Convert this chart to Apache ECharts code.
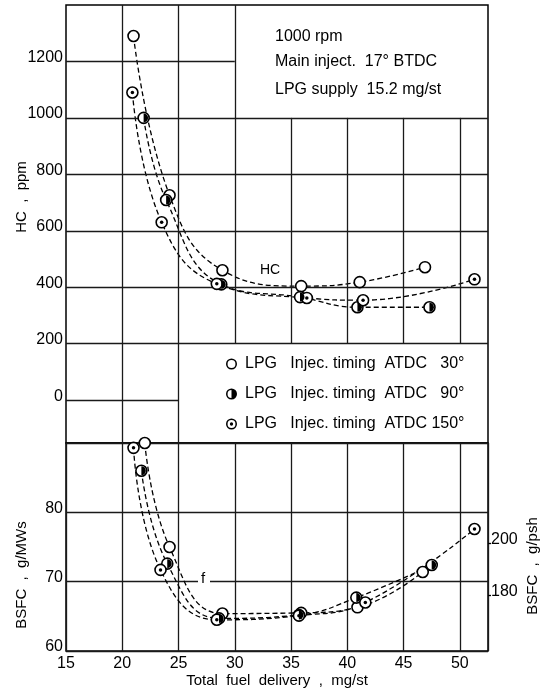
<!DOCTYPE html>
<html>
<head>
<meta charset="utf-8">
<script src="https://cdn.jsdelivr.net/npm/echarts@6/dist/echarts.min.js"></script>
<style>html,body{margin:0;padding:0;background:#fff}#c{width:545px;height:689px}</style>
</head>
<body>
<div id="c"></div>
<script>
// ---- data ----
const xTicks = [15, 20, 25, 30, 35, 40, 45, 50];
const hcTicks = [0, 200, 400, 600, 800, 1000, 1200];
const bsfcTicks = [60, 70, 80];
const pshTicks = [180, 200];

const seriesNames = ['LPG   Injec. timing  ATDC   30°', 'LPG   Injec. timing  ATDC   90°', 'LPG   Injec. timing  ATDC 150°'];

// HC, ppm
const fuel30_hc  = [21.0, 24.2, 28.9, 35.9, 41.1, 46.9];
const hc30       = [1290, 726, 460, 404, 418, 471];
const fuel90_hc  = [21.9, 23.9, 28.8, 35.8, 40.9, 47.3];
const hc90       = [1000, 709, 410, 365, 329, 329];
const fuel150_hc = [20.9, 23.5, 28.4, 36.4, 41.4, 51.3];
const hc150      = [1090, 630, 412, 362, 354, 428];

// BSFC, g/MWs
const fuel30_b  = [22.0, 24.2, 28.9, 35.9, 40.9, 46.7];
const b30       = [90.0, 75.0, 65.4, 65.5, 66.3, 71.4];
const fuel90_b  = [21.7, 24.0, 28.6, 35.7, 40.8, 47.5];
const b90       = [86.0, 72.6, 64.7, 65.2, 67.7, 72.4];
const fuel150_b = [21.0, 23.4, 28.4, 35.7, 41.6, 51.3];
const b150      = [89.3, 71.7, 64.5, 65.1, 67.0, 77.6];

const PSH_TO_MWS = 0.37767; // 1 g/psh = 0.37767 g/MWs

// ---- build ----
const FONT = 'Liberation Sans, Arial, sans-serif';
const pairs = (xs, ys) => xs.map((x, i) => [x, ys[i]]);
const XMIN = 15, XMAX = 52.5, HCMIN = -152, HCMAX = 1400;

const ring = 'M0,-1 A1,1 0 1,1 0,1 A1,1 0 1,1 0,-1 Z M0,-0.72 A0.72,0.72 0 1,0 0,0.72 A0.72,0.72 0 1,0 0,-0.72 Z';
const halfIcon = ring + ' M0,-0.72 A0.72,0.72 0 0,1 0,0.72 Z';
const dotIcon = ring + ' M0,-0.3 A0.3,0.3 0 1,1 0,0.3 A0.3,0.3 0 1,1 0,-0.3 Z';
const halfDisc = 'path://M0,-1 A1,1 0 0,1 0,1 Z';

const gl = (x1, y1, x2, y2) => [{coord: [x1, y1]}, {coord: [x2, y2]}];
const topGrid = [
  gl(15, 1200, 30, 1200), gl(15, 1000, XMAX, 1000), gl(15, 800, XMAX, 800),
  gl(15, 600, XMAX, 600), gl(15, 400, XMAX, 400), gl(15, 200, XMAX, 200),
  gl(15, 0, 25, 0),
  gl(20, HCMIN, 20, HCMAX), gl(25, HCMIN, 25, HCMAX), gl(30, 200, 30, HCMAX),
  gl(35, 200, 35, 1000), gl(40, 200, 40, 1000), gl(45, 200, 45, 1000), gl(50, 200, 50, 1000)
];

const dashed = {color: '#000', width: 1.3, type: [5, 3]};
function lineSeries(name, data, gi, extra) {
  return Object.assign({
    name, type: 'line', xAxisIndex: gi, yAxisIndex: gi, data,
    smooth: 0.45, symbol: 'none', lineStyle: dashed, z: 3, silent: true
  }, extra || {});
}
function openMarks(name, data, gi) {
  return {name, type: 'scatter', xAxisIndex: gi, yAxisIndex: gi, data, symbol: 'circle', symbolSize: 11,
    itemStyle: {color: '#fff', borderColor: '#000', borderWidth: 1.6, opacity: 1}, z: 5, silent: true};
}
function halfMarks(name, data, gi) {
  return {name, type: 'scatter', xAxisIndex: gi, yAxisIndex: gi, data, symbol: halfDisc, symbolSize: [4.5, 9],
    symbolOffset: [2.2, 0], itemStyle: {color: '#000', opacity: 1}, z: 6, silent: true};
}
function dotMarks(name, data, gi) {
  return {name, type: 'scatter', xAxisIndex: gi, yAxisIndex: gi, data, symbol: 'circle', symbolSize: 3.5,
    itemStyle: {color: '#000', opacity: 1}, z: 6, silent: true};
}

const series = [];
const sets = [
  [pairs(fuel30_hc, hc30), pairs(fuel30_b, b30), null],
  [pairs(fuel90_hc, hc90), pairs(fuel90_b, b90), halfMarks],
  [pairs(fuel150_hc, hc150), pairs(fuel150_b, b150), dotMarks]
];
sets.forEach((s, i) => {
  const nm = seriesNames[i];
  const extra = i === 0 ? {markLine: {silent: true, symbol: ['none', 'none'], animation: false,
    label: {show: false}, lineStyle: {color: '#1a1a1a', width: 1.3, type: 'solid'}, data: topGrid}} : null;
  series.push(lineSeries(nm, s[0], 0, extra));
  series.push(lineSeries(nm, s[1], 1));
  series.push(openMarks(nm, s[0], 0));
  series.push(openMarks(nm, s[1], 1));
  if (s[2]) { series.push(s[2](nm, s[0], 0)); series.push(s[2](nm, s[1], 1)); }
});

const plain = v => String(v);
const lbl = {color: '#000', fontSize: 16, fontFamily: FONT, formatter: plain};
const ylbl = Object.assign({}, lbl, {margin: 3, verticalAlign: 'bottom', lineHeight: 8});
const chart = echarts.init(document.getElementById('c'), null, {renderer: 'canvas'});
chart.setOption({
  animation: false,
  backgroundColor: '#fff',
  grid: [
    {left: 66, top: 5, width: 422, height: 438, show: true, borderColor: '#000', borderWidth: 1.5, backgroundColor: 'transparent'},
    {left: 66, top: 443, width: 422, height: 208, show: true, borderColor: '#000', borderWidth: 1.5, backgroundColor: 'transparent'}
  ],
  xAxis: [
    {type: 'value', gridIndex: 0, min: XMIN, max: XMAX, interval: 5, axisLine: {show: false}, axisTick: {show: false},
      axisLabel: {show: false}, splitLine: {show: false}},
    {type: 'value', gridIndex: 1, min: XMIN, max: XMAX, interval: 5, axisLine: {show: false}, axisTick: {show: false},
      axisLabel: Object.assign({}, lbl, {margin: 5, customValues: xTicks}),
      splitLine: {show: true, lineStyle: {color: '#1a1a1a', width: 1.3}}}
  ],
  yAxis: [
    {type: 'value', gridIndex: 0, min: HCMIN, max: HCMAX, axisLine: {show: false}, axisTick: {show: false},
      axisLabel: Object.assign({}, ylbl, {customValues: hcTicks}),
      splitLine: {show: false}},
    {type: 'value', gridIndex: 1, min: 60, max: 90, interval: 10, axisLine: {show: false}, axisTick: {show: false},
      axisLabel: Object.assign({}, ylbl, {customValues: bsfcTicks}),
      splitLine: {show: true, lineStyle: {color: '#1a1a1a', width: 1.3}}},
    {type: 'value', gridIndex: 1, position: 'right', min: 60 / PSH_TO_MWS, max: 90 / PSH_TO_MWS,
      axisLine: {show: false}, axisTick: {show: true, customValues: pshTicks, length: 3, lineStyle: {color: '#000', width: 1.3}},
      axisLabel: Object.assign({}, ylbl, {customValues: pshTicks}),
      splitLine: {show: false}}
  ],
  legend: {
    orient: 'vertical', left: 226, top: 356, padding: 0, itemWidth: 11, itemHeight: 11, itemGap: 14, selectedMode: false,
    textStyle: {color: '#000', fontSize: 16, fontFamily: FONT, lineHeight: 16, padding: [0, 0, 0, 3]},
    data: [
      {name: seriesNames[0], icon: 'path://' + ring, itemStyle: {color: '#000', borderWidth: 0}},
      {name: seriesNames[1], icon: 'path://' + halfIcon, itemStyle: {color: '#000', borderWidth: 0}},
      {name: seriesNames[2], icon: 'path://' + dotIcon, itemStyle: {color: '#000', borderWidth: 0}}
    ]
  },
  graphic: [
    {type: 'text', left: 275, top: 29, style: {text: '1000 rpm', fill: '#000', font: '16px ' + FONT}},
    {type: 'text', left: 275, top: 54, style: {text: 'Main inject.  17° BTDC', fill: '#000', font: '16px ' + FONT}},
    {type: 'text', left: 275, top: 82, style: {text: 'LPG supply  15.2 mg/st', fill: '#000', font: '16px ' + FONT}},
    {type: 'text', left: 260, top: 263, z: 10, style: {text: 'HC', fill: '#000', font: '14px ' + FONT}},
    {type: 'rect', left: 198, top: 574, z: 10, shape: {width: 12, height: 10}, style: {fill: '#fff'}},
    {type: 'text', left: 201, top: 571, z: 11, style: {text: 'f', fill: '#000', font: '15px ' + FONT}},
    {type: 'text', x: 22, y: 197, rotation: Math.PI / 2, z: 10,
      style: {text: 'HC  ,  ppm', fill: '#000', font: '15px ' + FONT, align: 'center', verticalAlign: 'middle'}},
    {type: 'text', x: 22, y: 575, rotation: Math.PI / 2, z: 10,
      style: {text: 'BSFC  ,  g/MWs', fill: '#000', font: '15px ' + FONT, align: 'center', verticalAlign: 'middle'}},
    {type: 'text', x: 533, y: 566, rotation: Math.PI / 2, z: 10,
      style: {text: 'BSFC  ,  g/psh', fill: '#000', font: '15px ' + FONT, align: 'center', verticalAlign: 'middle'}},
    {type: 'text', x: 277, y: 681, z: 10,
      style: {text: 'Total  fuel  delivery  ,  mg/st', fill: '#000', font: '15px ' + FONT, align: 'center', verticalAlign: 'middle'}}
  ],
  series
});
</script>
</body>
</html>
